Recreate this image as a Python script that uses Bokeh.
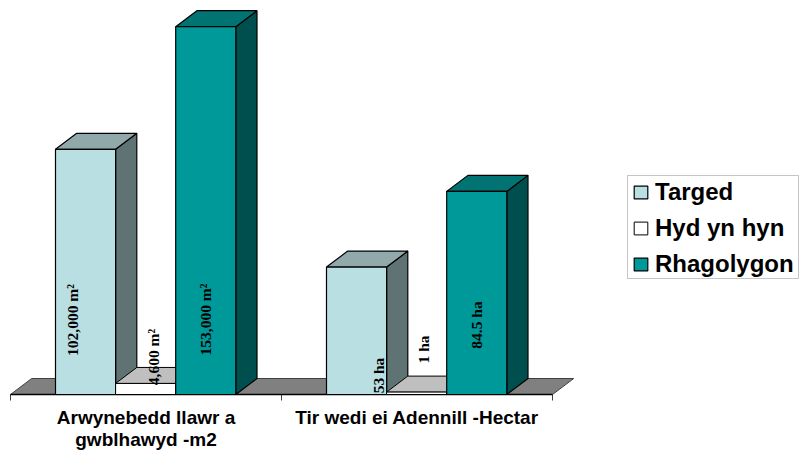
from bokeh.plotting import figure
from bokeh.embed import file_html
from bokeh.resources import INLINE
from bokeh.core.properties import value
from bokeh.models import Legend, LegendItem, Range1d, BoxAnnotation
import math

# ---- data (thousand m² and hectares share one value axis in the original)
categories = ["Arwynebedd llawr a\ngwblhawyd -m2", "Tir wedi ei Adennill -Hectar"]
series_names = ["Targed", "Hyd yn hyn", "Rhagolygon"]
targed = [102, 53]
hyd_yn_hyn = [4.6, 1]
rhagolygon = [153, 84.5]
labels_targed = ["102,000 m²", "53 ha"]
labels_hyd = ["4,600 m²", "1 ha"]
labels_rhag = ["153,000 m²", "84.5 ha"]

# ---- layout (page pixels)
W, H = 799, 451
PX_PER_UNIT = 2.404
BASE_Y = 394
GROUP_PX = 271
LEFT_PX = 10
BAR_W = 60.1 / GROUP_PX
BAR_START = 45 / GROUP_PX
DX = 21.2 / GROUP_PX
DY = 16 / PX_PER_UNIT

p = figure(width=W, height=H, toolbar_location=None, output_backend="svg",
           x_range=Range1d(-LEFT_PX / GROUP_PX, (W - LEFT_PX) / GROUP_PX),
           y_range=Range1d(-(H - BASE_Y) / PX_PER_UNIT, BASE_Y / PX_PER_UNIT),
           min_border=0, outline_line_color=None)
p.axis.visible = False
p.grid.visible = False

n = len(categories)
LINE = "#000000"

# floor
p.patch([0, n, n + DX, DX], [0, 0, DY, DY], fill_color="#808080",
        line_color="#404040", line_width=1)
# axis line and ticks
p.segment(list(range(n + 1)), [-6 / PX_PER_UNIT] * (n + 1), list(range(n + 1)),
          [0] * (n + 1), line_color="#404040", line_width=1)
p.segment([0], [0], [n], [0], line_color="#000000", line_width=1.4)


def bars(vals, slot, front, top, side, lw=1.2):
    lefts = [g + BAR_START + slot * BAR_W for g in range(n)]
    rights = [l + BAR_W for l in lefts]
    p.patches([[r, r + DX, r + DX, r] for r in rights],
              [[0, DY, v + DY, v] for v in vals],
              fill_color=side, line_color=LINE, line_width=lw)
    p.patches([[l, r, r + DX, l + DX] for l, r in zip(lefts, rights)],
              [[v, v, v + DY, v + DY] for v in vals],
              fill_color=top, line_color=LINE, line_width=lw)
    return p.quad(left=lefts, right=rights, bottom=[0] * n, top=vals,
                  fill_color=front, line_color=LINE, line_width=lw)


r1 = bars(targed, 0, "#B9DFE3", "#92A9AB", "#5F7375")
r2 = bars(hyd_yn_hyn, 1, "#FFFFFF", "#BFBFBF", "#808080", 1)
r3 = bars(rhagolygon, 2, "#009999", "#007372", "#004F4F")

# value labels
lab_x, lab_y, lab_t, off_x, off_y = [], [], [], [], []
label_sets = [labels_targed, labels_hyd, labels_rhag]
x_shift = [[-13.5, 22], [8, 6.5], [0, 0]]
y_shift = [[-74.5, -19], [-37.5, -45], [-75, -69.5]]
for s, labs in enumerate(label_sets):
    for g, t in enumerate(labs):
        lab_x.append(g + BAR_START + (s + 0.5) * BAR_W)
        lab_y.append(0)
        lab_t.append(t)
        off_x.append(x_shift[s][g])
        off_y.append(y_shift[s][g])
p.text(lab_x, lab_y, text=lab_t, x_offset=off_x, y_offset=off_y, angle=math.pi / 2,
       text_align="center", text_baseline="middle",
       text_font=value("Liberation Serif"), text_font_style="bold",
       text_font_size="15.5px", text_color="#000000")

# category labels
p.text([g + 0.5 for g in range(n)], [0] * n, text=categories, y_offset=[12] * n,
       text_align="center", text_baseline="top", text_line_height=1.08,
       text_font=value("Liberation Sans"), text_font_style="bold",
       text_font_size="19px", text_color="#000000")

# legend frame, then the legend itself
frame = BoxAnnotation(left=627, right=798, top=173, bottom=276,
                      left_units="screen", right_units="screen",
                      top_units="screen", bottom_units="screen",
                      fill_color="#FFFFFF", fill_alpha=1,
                      line_color="#404040", line_width=1)
p.add_layout(frame)
legend = Legend(items=[LegendItem(label=series_names[0], renderers=[r1]),
                       LegendItem(label=series_names[1], renderers=[r2]),
                       LegendItem(label=series_names[2], renderers=[r3])],
                location=(632, 173), orientation="vertical",
                glyph_width=17, glyph_height=16, label_standoff=6,
                label_text_font="Liberation Sans", label_text_font_style="bold",
                label_text_font_size="24px", label_text_color="#000000",
                label_height=20, spacing=8, padding=5, margin=0,
                border_line_color=None, background_fill_alpha=0)
p.add_layout(legend, "center")

open("out.html", "w").write(file_html(p, INLINE))
